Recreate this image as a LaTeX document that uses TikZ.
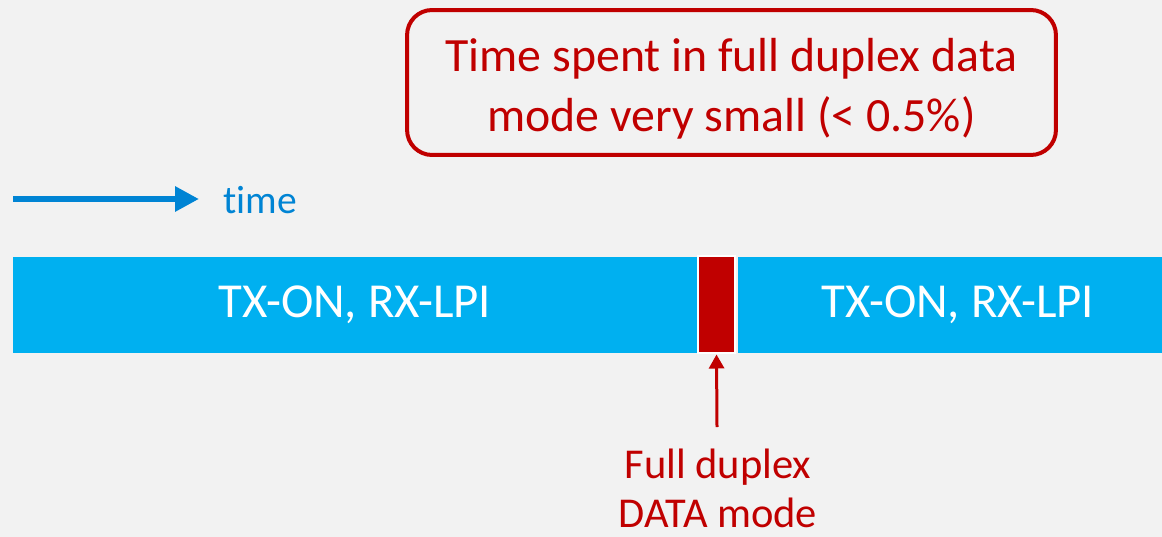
\documentclass[tikz,border=0pt]{standalone}
\usepackage{fontspec}
\setmainfont[Ligatures=NoCommon]{Carlito}
\usepackage{xcolor}
\usetikzlibrary{arrows.meta,positioning}
\definecolor{bgcol}{HTML}{F2F2F2}
\definecolor{barblue}{HTML}{00B0F0}
\definecolor{darkred}{HTML}{C00000}
\definecolor{timeblue}{HTML}{0084D4}

\begin{document}
\begin{tikzpicture}[
  x=0.02cm, y=-0.02cm,
  bar/.style={fill=barblue, minimum height=1.92cm, inner sep=0pt,
              text=white, font=\fontsize{27.8}{32}\selectfont},
  burst/.style={fill=darkred, draw=white, line width=0.04cm,
                minimum width=0.74cm, minimum height=1.96cm, inner sep=0pt},
  note/.style={draw=darkred, line width=0.08cm, rounded corners=0.5cm,
               minimum width=12.98cm, minimum height=2.9cm, align=center,
               text=darkred, font=\fontsize{27.2}{34.5}\selectfont},
  >=Stealth
]
  \fill[bgcol] (0,0) rectangle (1162,537);
  \useasboundingbox (0,0) rectangle (1162,537);

  % time axis
  \coordinate (t0) at (13,199);
  \coordinate (t1) at (199,199);
  \node[anchor=west, inner sep=0pt, text=timeblue,
        font=\fontsize{22.5}{26}\selectfont] (timelbl) at (223,200) {time};
  \draw[timeblue, line width=0.12cm,
        -{Triangle[length=0.48cm,width=0.48cm]}] (t0) -- (t1);

  % bars
  \node[bar, minimum width=13.68cm] (lpileft) at (355,305) {TX-ON, RX-LPI};
  \node[bar, minimum width=8.8cm] (lpiright) at (958,305) {TX-ON, RX-LPI};
  \node[burst] (fd) at (716.5,304.5) {};

  % note
  \node[note] (remark) at (731.5,82.5)
    {\rule{0pt}{26pt}Time spent in full duplex data\\mode very small (< 0.5\%)};

  % marker
  \coordinate (tail) at (717,427);
  \draw[darkred, line width=0.06cm,
        -{Triangle[length=0.28cm,width=0.3cm]}] (tail) -- (fd.south);
  \node[align=center, text=darkred, inner sep=0pt,
        font=\fontsize{24.2}{28}\selectfont] (fdlabel) at (718,488) {Full duplex\\DATA mode};
\end{tikzpicture}
\end{document}
